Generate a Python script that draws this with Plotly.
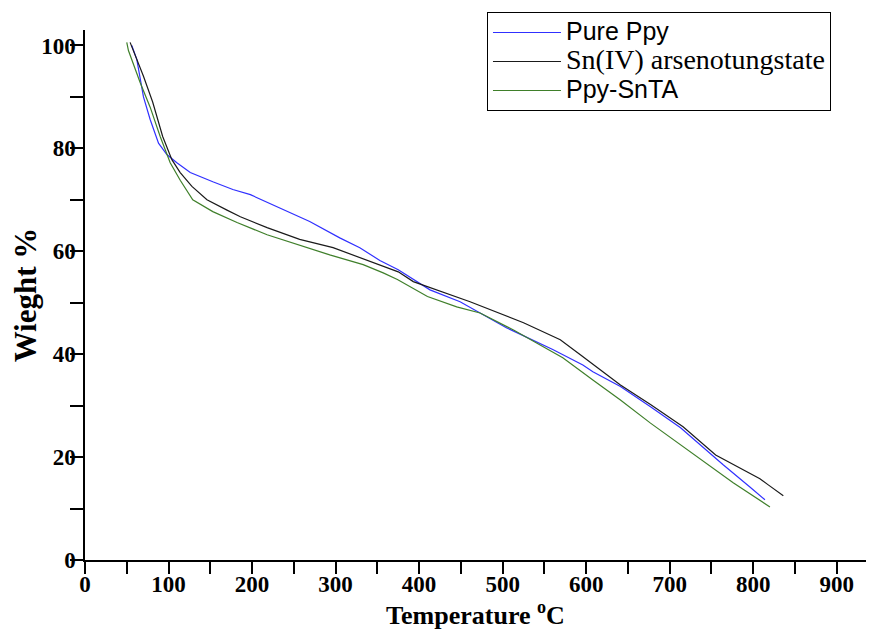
import plotly.graph_objects as go

# Pure Ppy
ppy_t = [56, 62, 70, 78, 88, 98, 110, 126, 153, 177, 198, 225, 269, 305, 329, 353, 375,
         413, 449, 505, 560, 596, 608, 641, 677, 713, 764, 796, 814]
ppy_w = [100, 97.3, 90, 85.6, 81, 78.8, 77.2, 75.3, 73.5, 72, 71, 69, 65.8, 62.6, 60.7, 58.2, 56.4,
         52.5, 50.2, 45.1, 40.9, 37.9, 36.6, 33.7, 29.8, 25.7, 18.5, 14.2, 11.7]

# Sn(IV) arsenotungstate
snta_t = [54, 58, 70, 81, 93, 104, 114, 128, 146, 170, 186, 218, 257, 297, 341, 375, 393,
          461, 525, 569, 593, 641, 677, 716, 755, 808, 818, 836]
snta_w = [100.6, 99, 94, 89, 82.3, 77.8, 75.3, 72.6, 70, 68, 66.7, 64.6, 62.3, 60.7, 58, 56, 54.1,
          50.2, 46.1, 42.8, 39.9, 34, 30.2, 25.9, 20.4, 15.8, 14.6, 12.5]

# Ppy-SnTA composite
comp_t = [50, 52, 66, 78, 90, 102, 114, 129, 153, 182, 218, 254, 293, 333, 357, 374, 410,
          445, 473, 513, 572, 608, 641, 677, 725, 776, 820]
comp_w = [100.6, 99, 92.8, 88, 82.3, 77.2, 73.8, 70, 67.7, 65.6, 63.2, 61.3, 59.3, 57.4, 55.8, 54.5, 51.2,
          49.2, 48, 44.7, 39.3, 35, 31.1, 26.6, 21, 15, 10.3]

serif = "Liberation Serif"

fig = go.Figure()
fig.add_trace(go.Scatter(x=ppy_t, y=ppy_w, mode="lines",
                         name='<span style="font-size:25px">Pure Ppy</span>',
                         line=dict(color="#3030ff", width=1.2)))
fig.add_trace(go.Scatter(x=snta_t, y=snta_w, mode="lines",
                         name='<span style="font-family:Liberation Serif;font-size:28px">Sn(IV) arsenotungstate</span>',
                         line=dict(color="#1a1a1a", width=1.2)))
fig.add_trace(go.Scatter(x=comp_t, y=comp_w, mode="lines",
                         name='<span style="font-size:25px">Ppy-SnTA</span>',
                         line=dict(color="#3f7f2a", width=1.2)))

axis_common = dict(
    showline=True, linecolor="black", linewidth=1.5, showgrid=False, zeroline=False,
    ticks="outside", ticklen=7, tickwidth=1.5, tickcolor="black", automargin=False,
    tickfont=dict(family=serif, size=23, color="black", weight="bold"),
)

fig.update_xaxes(range=[0, 935], tickvals=[0, 100, 200, 300, 400, 500, 600, 700, 800, 900],
                 minor=dict(dtick=50, ticks="outside", ticklen=12, tickwidth=1.5, tickcolor="black"),
                 ticklabelstandoff=-4,
                 title=dict(text="Temperature <sup>o</sup>C",
                            font=dict(family=serif, size=26, color="black", weight="bold"),
                            standoff=9),
                 **axis_common)
fig.update_yaxes(range=[0, 103], tickvals=[0, 20, 40, 60, 80, 100],
                 minor=dict(dtick=10, ticks="outside", ticklen=13, tickwidth=1.5, tickcolor="black"),
                 ticklabelstandoff=-4,
                 title=dict(text="Wieght %",
                            font=dict(family=serif, size=31, color="black", weight="bold"),
                            standoff=2),
                 **axis_common)

# the page body adds an 8px offset, so the figure is sized to fit inside the window
fig.update_layout(
    width=858, height=622,
    margin=dict(l=77, r=0, t=22, b=70),
    plot_bgcolor="white", paper_bgcolor="white",
    legend=dict(x=0.5147, y=1.034, xanchor="left", yanchor="top",
                bordercolor="black", borderwidth=1, bgcolor="white",
                font=dict(family="Liberation Sans", size=20, color="black"),
                itemwidth=68, tracegroupgap=0),
)

fig.write_html("out.html")
